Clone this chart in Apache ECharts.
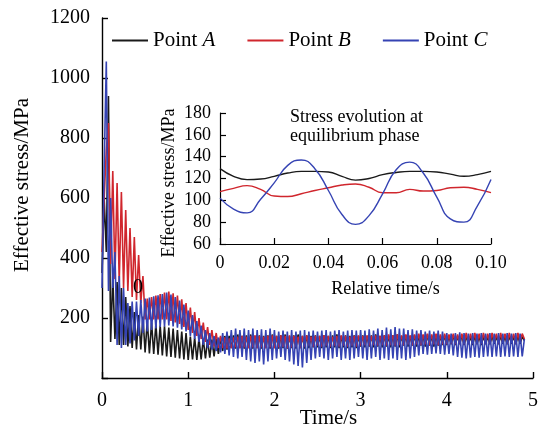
<!DOCTYPE html>
<html>
<head>
<meta charset="utf-8">
<script src="https://cdn.jsdelivr.net/npm/echarts@6/dist/echarts.min.js"></script>
<style>
html,body{margin:0;padding:0;background:#fff;}
#chart{width:541px;height:430px;}
</style>
</head>
<body>
<div id="chart"></div>
<script>
// ---- main chart data (sampled every timeStep seconds from t = 0) ----
const timeStep = 0.025;
const pointA = [
  350, 600, 420, 940, 120, 340, 130, 320, 110, 300, 110, 270, 105, 240, 100, 220, 95, 210, 95, 205,
  85, 190, 82, 185, 80, 180, 78, 175, 75, 172, 72, 168, 70, 165, 68, 160, 65, 155, 62, 150,
  60, 138, 62, 135, 60, 132, 62, 130, 65, 128, 68, 128, 72, 130, 80, 135, 90, 140, 95, 140,
  100, 142, 98, 145, 100, 140, 98, 142, 100, 145, 98, 140, 100, 142, 98, 140, 100, 142, 98, 145,
  100, 140, 98, 142, 100, 145, 98, 140, 100, 142, 98, 145, 100, 140, 98, 142, 100, 140, 102, 142,
  102, 140, 100, 142, 102, 140, 100, 142, 102, 145, 100, 140, 102, 142, 100, 140, 102, 142, 100, 140,
  105, 142, 102, 140, 105, 142, 102, 145, 105, 140, 102, 142, 105, 140, 102, 142, 105, 145, 102, 140,
  108, 142, 105, 140, 108, 142, 105, 140, 108, 142, 105, 145, 108, 140, 105, 142, 108, 140, 110, 142,
  110, 140, 112, 142, 110, 140, 112, 142, 110, 140, 112, 138, 110, 140, 112, 138, 110, 140, 112, 138,
  112, 140, 114, 138, 112, 140, 114, 138, 112, 140, 114, 138, 112, 140, 114, 138, 125
];
const pointB = [
  420, 600, 760, 850, 380, 690, 330, 650, 320, 620, 300, 560, 290, 500, 270, 470, 260, 410, 250, 340,
  195, 265, 195, 270, 195, 275, 195, 280, 195, 285, 195, 288, 190, 282, 185, 275, 180, 262, 170, 250,
  160, 235, 150, 220, 140, 200, 130, 185, 120, 170, 110, 160, 105, 150, 100, 140, 100, 135, 98, 132,
  100, 135, 102, 138, 100, 140, 102, 138, 100, 140, 102, 142, 100, 140, 102, 138, 100, 140, 102, 142,
  100, 140, 102, 142, 104, 140, 100, 142, 102, 140, 105, 138, 100, 140, 105, 142, 108, 138, 105, 140,
  108, 140, 105, 142, 108, 140, 105, 138, 108, 140, 105, 142, 108, 140, 105, 138, 108, 140, 105, 142,
  108, 140, 110, 142, 108, 140, 110, 142, 108, 140, 110, 142, 108, 145, 110, 142, 108, 145, 110, 142,
  110, 145, 112, 142, 110, 145, 112, 148, 110, 145, 112, 148, 110, 145, 112, 148, 110, 145, 112, 148,
  112, 145, 115, 148, 112, 145, 115, 148, 112, 150, 115, 148, 115, 150, 115, 148, 115, 150, 115, 148,
  115, 150, 118, 148, 115, 150, 118, 148, 115, 150, 118, 148, 115, 150, 118, 148, 130
];
const pointC = [
  300, 700, 1055, 290, 600, 300, 420, 110, 340, 100, 300, 110, 250, 115, 255, 125, 255, 140, 260, 150,
  265, 155, 268, 160, 272, 165, 276, 170, 280, 172, 285, 175, 278, 172, 270, 168, 258, 162, 245, 155,
  225, 140, 210, 130, 190, 120, 175, 110, 160, 100, 150, 95, 140, 90, 135, 85, 150, 80, 155, 75,
  160, 70, 165, 65, 160, 70, 165, 60, 160, 55, 165, 50, 160, 55, 162, 45, 160, 55, 165, 60,
  160, 65, 155, 70, 158, 60, 155, 55, 160, 45, 155, 40, 158, 35, 160, 50, 155, 60, 158, 65,
  155, 70, 158, 65, 160, 60, 155, 65, 158, 70, 160, 60, 155, 65, 158, 60, 160, 65, 158, 70,
  160, 65, 158, 60, 162, 65, 158, 70, 165, 60, 160, 65, 168, 60, 162, 65, 170, 60, 165, 65,
  165, 60, 160, 65, 162, 70, 158, 75, 160, 80, 155, 78, 158, 80, 155, 82, 158, 80, 155, 78,
  150, 80, 148, 75, 150, 70, 152, 68, 150, 65, 148, 68, 150, 70, 148, 68, 150, 70, 148, 72,
  150, 70, 148, 72, 150, 70, 148, 72, 150, 70, 148, 72, 150, 70, 148, 72, 130
];
const mainYTicks = [0, 200, 400, 600, 800, 1000, 1200];
const mainXTicks = [0, 1, 2, 3, 4, 5];

// ---- inset data (equilibrium phase) ----
const insetTime = [0, 0.005, 0.01, 0.015, 0.02, 0.025, 0.03, 0.035, 0.04, 0.045, 0.05,
                   0.055, 0.06, 0.065, 0.07, 0.075, 0.08, 0.085, 0.09, 0.095, 0.1];
const insetA = [129, 122, 119, 119.5, 122, 125, 126.5, 126.5, 126, 122, 118.5,
                120, 123.5, 125.5, 126.5, 126.5, 126, 124, 122, 123.5, 126.5];
const insetB = [108, 111, 113.5, 110, 104, 103.5, 106, 109, 111.5, 114, 115,
                112, 107, 107, 110, 108.5, 109, 111.5, 112, 110, 107];
const insetC = [102, 92, 88.5, 101, 116, 132, 137, 129, 109, 87, 78,
                86, 106, 128, 135, 125, 103, 83, 80, 95, 119];
const insetYTicks = [60, 80, 100, 120, 140, 160, 180];
const insetXTicks = [0, 0.02, 0.04, 0.06, 0.08, 0.10];

const seriesNames = ['Point A', 'Point B', 'Point C'];
const colors = ['#1a1a1a', '#d0262d', '#3543b3'];

const FONT = "'Liberation Serif', 'Times New Roman', serif";

function pairs(times, vals) { return vals.map((v, i) => [times[i], v]); }
const mainTimes = pointA.map((_, i) => +(i * timeStep).toFixed(4));

const chart = echarts.init(document.getElementById('chart'), null, {renderer: 'canvas'});

const axisCommon = {
  axisLine: {show: true, onZero: false, lineStyle: {color: '#000', width: 1.4}},
  axisTick: {show: true, inside: true, length: 6, lineStyle: {color: '#000', width: 1.4}},
  splitLine: {show: false},
  nameMoveOverlap: false
};

const option = {
  animation: false,
  backgroundColor: '#fff',
  legend: {
    data: seriesNames,
    left: 112, top: 30, padding: 0,
    itemWidth: 36, itemHeight: 14, itemGap: 32,
    icon: 'path://M0,6 L36,6 L36,8 L0,8 Z',
    formatter: function (name) {
      const parts = name.split(' ');
      return parts[0] + ' {i|' + parts[1] + '}';
    },
    textStyle: {
      fontFamily: FONT, fontSize: 21, color: '#000',
      rich: {i: {fontFamily: FONT, fontSize: 21, fontStyle: 'italic', color: '#000'}}
    }
  },
  grid: [
    {left: 102, top: 18, width: 431, height: 360, containLabel: false, outerBoundsMode: 'none'},
    {left: 220, top: 113, width: 271, height: 131, containLabel: false, outerBoundsMode: 'none'}
  ],
  xAxis: [
    Object.assign({}, axisCommon, {
      gridIndex: 0, type: 'value', min: mainXTicks[0], max: mainXTicks[mainXTicks.length - 1], interval: 1,
      name: 'Time/s', nameLocation: 'middle', nameGap: 30,
      nameTextStyle: {fontFamily: FONT, fontSize: 21, color: '#000', padding: [0, 0, 0, 22]},
      axisLabel: {fontFamily: FONT, fontSize: 20, color: '#000', margin: 13}
    }),
    Object.assign({}, axisCommon, {
      gridIndex: 1, type: 'value', min: insetXTicks[0], max: insetXTicks[insetXTicks.length - 1], interval: 0.02,
      name: 'Relative time/s', nameLocation: 'middle', nameGap: 36,
      nameTextStyle: {fontFamily: FONT, fontSize: 18, color: '#000', padding: [0, 0, 0, 60]},
      axisLine: {show: true, onZero: false, lineStyle: {color: '#000', width: 1.2}},
      axisTick: {show: true, inside: true, length: 6, lineStyle: {color: '#000', width: 1.2}},
      axisLabel: {fontFamily: FONT, fontSize: 18, color: '#000', margin: 10,
        formatter: v => (v === 0 ? '0' : v.toFixed(2))}
    })
  ],
  yAxis: [
    Object.assign({}, axisCommon, {
      gridIndex: 0, type: 'value', min: mainYTicks[0], max: mainYTicks[mainYTicks.length - 1], interval: 200,
      name: 'Effective stress/MPa', nameLocation: 'middle', nameGap: 69,
      nameTextStyle: {fontFamily: FONT, fontSize: 21, color: '#000', padding: [0, 0, 0, 26]},
      axisLabel: {fontFamily: FONT, fontSize: 20, color: '#000', margin: 12,
        formatter: v => (v === 0 ? '' : String(v))}
    }),
    Object.assign({}, axisCommon, {
      gridIndex: 1, type: 'value', min: insetYTicks[0], max: insetYTicks[insetYTicks.length - 1], interval: 20,
      name: 'Effective stress/MPa', nameLocation: 'middle', nameGap: 42,
      nameTextStyle: {fontFamily: FONT, fontSize: 18, color: '#000', padding: [0, 9, 0, 0]},
      axisLine: {show: true, onZero: false, lineStyle: {color: '#000', width: 1.2}},
      axisTick: {show: true, inside: true, length: 6, lineStyle: {color: '#000', width: 1.2}},
      axisLabel: {fontFamily: FONT, fontSize: 18, color: '#000', margin: 9}
    })
  ],
  series: [
    {name: seriesNames[0], type: 'line', xAxisIndex: 0, yAxisIndex: 0, data: pairs(mainTimes, pointA),
     symbol: 'none', lineStyle: {color: colors[0], width: 1.6}, itemStyle: {color: colors[0]}},
    {name: seriesNames[1], type: 'line', xAxisIndex: 0, yAxisIndex: 0, data: pairs(mainTimes, pointB),
     symbol: 'none', lineStyle: {color: colors[1], width: 1.6}, itemStyle: {color: colors[1]}},
    {name: seriesNames[2], type: 'line', xAxisIndex: 0, yAxisIndex: 0, data: pairs(mainTimes, pointC),
     symbol: 'none', lineStyle: {color: colors[2], width: 1.6}, itemStyle: {color: colors[2]}},
    {name: seriesNames[0], type: 'line', xAxisIndex: 1, yAxisIndex: 1, data: pairs(insetTime, insetA),
     symbol: 'none', smooth: true, lineStyle: {color: colors[0], width: 1.4}, itemStyle: {color: colors[0]}},
    {name: seriesNames[1], type: 'line', xAxisIndex: 1, yAxisIndex: 1, data: pairs(insetTime, insetB),
     symbol: 'none', smooth: true, lineStyle: {color: colors[1], width: 1.4}, itemStyle: {color: colors[1]}},
    {name: seriesNames[2], type: 'line', xAxisIndex: 1, yAxisIndex: 1, data: pairs(insetTime, insetC),
     symbol: 'none', smooth: true, lineStyle: {color: colors[2], width: 1.4}, itemStyle: {color: colors[2]}}
  ],
  graphic: [
    {type: 'text', left: 290, top: 108, z: 10,
     style: {text: 'Stress evolution at\nequilibrium phase', fontFamily: FONT, fontSize: 18,
             lineHeight: 19, fill: '#000'}},
    {type: 'text', x: 138, y: 288, z: 10,
     style: {text: '0', fontFamily: FONT, fontSize: 20, fill: '#000', align: 'center', verticalAlign: 'middle'}}
  ]
};
chart.setOption(option);
</script>
</body>
</html>
